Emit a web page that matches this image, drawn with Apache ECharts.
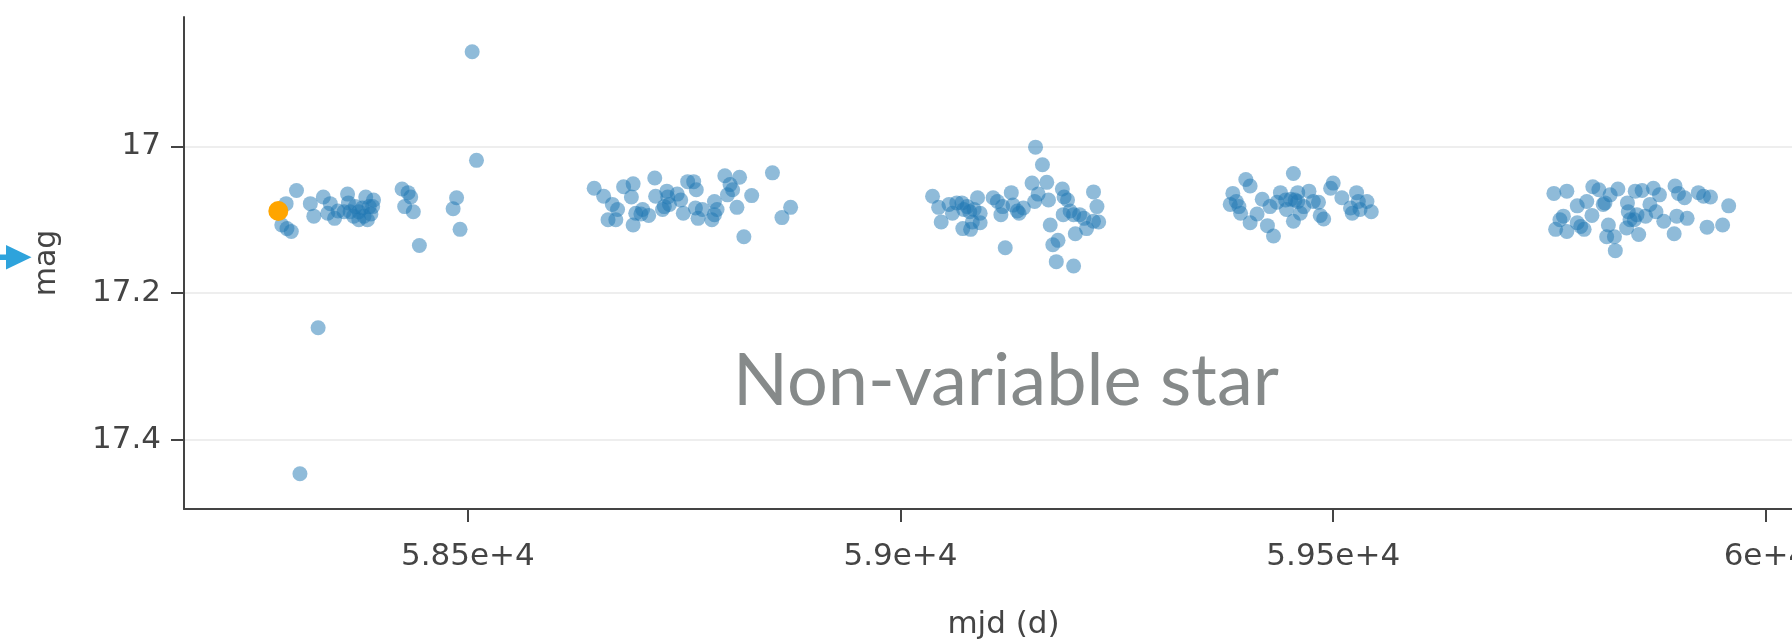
<!DOCTYPE html>
<html><head><meta charset="utf-8">
<script src="https://cdn.jsdelivr.net/npm/echarts@6/dist/echarts.min.js"></script>
<style>html,body{margin:0;padding:0;background:#fff}#c{width:1792px;height:644px}</style>
</head><body><div id="c"></div>
<script>
// [mjd (d), mag] observations, one array per observing season
const season1 = [[58302,17.060],[58290,17.078],[58285,17.107],[58291,17.112],[58296,17.116],[58318,17.078],[58322,17.095],[58333,17.069],[58341,17.078],[58338,17.091],[58346,17.098],[58350,17.088],[58361,17.065],[58362,17.077],[58364,17.089],[58368,17.095],[58374,17.100],[58384,17.100],[58382,17.069],[58391,17.073],[58390,17.082],[58388,17.092],[58378,17.084],[58370,17.082],[58357,17.089],[58374,17.089],[58380,17.095],[58386,17.082],[58424,17.058],[58431,17.063],[58434,17.069],[58427,17.082],[58437,17.089],[58444,17.135],[58487,17.070],[58483,17.085],[58491,17.113],[58505,16.871],[58510,17.019],[58327,17.247],[58306,17.446]];
const season2 = [[58646,17.057],[58657,17.068],[58667,17.079],[58673,17.086],[58662,17.100],[58671,17.100],[58680,17.055],[58691,17.051],[58689,17.069],[58694,17.091],[58702,17.086],[58700,17.092],[58691,17.107],[58709,17.094],[58716,17.043],[58717,17.068],[58725,17.086],[58730,17.061],[58731,17.069],[58727,17.082],[58733,17.079],[58742,17.065],[58746,17.073],[58749,17.091],[58754,17.048],[58761,17.048],[58764,17.059],[58763,17.084],[58766,17.098],[58771,17.086],[58782,17.100],[58785,17.093],[58788,17.086],[58785,17.075],[58797,17.040],[58803,17.052],[58806,17.059],[58800,17.066],[58814,17.042],[58811,17.083],[58828,17.067],[58852,17.036],[58873,17.083],[58863,17.097],[58819,17.123]];
const season3 = [[59037,17.068],[59044,17.083],[59047,17.103],[59056,17.079],[59060,17.091],[59065,17.077],[59071,17.077],[59073,17.086],[59077,17.082],[59080,17.089],[59072,17.112],[59081,17.113],[59083,17.103],[59089,17.070],[59092,17.091],[59092,17.104],[59085,17.086],[59107,17.070],[59112,17.075],[59118,17.082],[59116,17.093],[59128,17.063],[59130,17.080],[59135,17.088],[59137,17.091],[59142,17.084],[59121,17.138],[59156,17.001],[59164,17.025],[59152,17.050],[59169,17.049],[59159,17.065],[59155,17.075],[59171,17.073],[59187,17.058],[59189,17.069],[59193,17.073],[59188,17.093],[59196,17.088],[59200,17.093],[59207,17.093],[59212,17.098],[59173,17.107],[59176,17.134],[59182,17.128],[59180,17.157],[59200,17.163],[59202,17.119],[59215,17.112],[59223,17.062],[59227,17.082],[59229,17.103],[59223,17.102]];
const season4 = [[59399,17.045],[59404,17.054],[59384,17.064],[59381,17.079],[59388,17.075],[59393,17.091],[59391,17.082],[59454,17.037],[59418,17.072],[59412,17.092],[59404,17.104],[59424,17.108],[59431,17.122],[59427,17.082],[59435,17.076],[59439,17.063],[59446,17.086],[59451,17.072],[59456,17.073],[59459,17.063],[59454,17.102],[59462,17.091],[59466,17.082],[59472,17.061],[59477,17.075],[59483,17.076],[59485,17.094],[59489,17.099],[59497,17.057],[59500,17.050],[59510,17.070],[59520,17.084],[59522,17.091],[59527,17.063],[59529,17.075],[59531,17.086],[59539,17.075],[59544,17.089],[59459,17.075],[59445,17.073]];
const season5 = [[59755,17.064],[59770,17.061],[59800,17.055],[59807,17.059],[59829,17.058],[59820,17.066],[59849,17.061],[59857,17.060],[59870,17.057],[59877,17.066],[59895,17.054],[59899,17.064],[59906,17.070],[59922,17.063],[59928,17.068],[59936,17.069],[59957,17.081],[59782,17.081],[59793,17.075],[59812,17.079],[59814,17.077],[59766,17.095],[59762,17.100],[59757,17.113],[59770,17.116],[59782,17.104],[59786,17.109],[59790,17.113],[59799,17.094],[59818,17.107],[59816,17.123],[59825,17.123],[59826,17.142],[59840,17.077],[59841,17.089],[59843,17.100],[59839,17.111],[59853,17.120],[59851,17.093],[59861,17.095],[59866,17.079],[59873,17.089],[59882,17.102],[59897,17.095],[59909,17.098],[59894,17.119],[59932,17.110],[59950,17.107],[59848,17.100]];
const selectedPoint = [[58281,17.088]];

const xTickValues = [58500, 59000, 59500, 60000];
const xTickLabels = ['5.85e+4', '5.9e+4', '5.95e+4', '6e+4'];
const yTickValues = [17, 17.2, 17.4];
const yTickLabels = ['17', '17.2', '17.4'];

const observations = [].concat(season1, season2, season3, season4, season5);

function lookup(values, labels, v) {
  for (let i = 0; i < values.length; i++) if (Math.abs(values[i] - v) < 1e-6) return labels[i];
  return '';
}

const FONT = 'DejaVu Sans';
const TXT = '#444';
const chart = echarts.init(document.getElementById('c'), null, {renderer: 'canvas'});
chart.setOption({
  animation: false,
  grid: {left: 184, top: 17, width: 1639, bottom: 135, outerBoundsMode: 'none', containLabel: false},
  xAxis: {
    type: 'value', min: 58172, max: 60066,
    name: 'mjd (d)', nameLocation: 'middle', nameGap: 100,
    nameTextStyle: {fontFamily: FONT, fontSize: 31, color: TXT},
    axisLine: {show: true, onZero: false, lineStyle: {color: TXT, width: 2}},
    axisTick: {show: true, length: 13, customValues: xTickValues, lineStyle: {color: TXT, width: 2}},
    axisLabel: {customValues: xTickValues, formatter: v => lookup(xTickValues, xTickLabels, v),
      fontFamily: FONT, fontSize: 31, color: TXT, margin: 32, hideOverlap: false},
    splitLine: {show: false}
  },
  yAxis: {
    type: 'value', inverse: true, min: 16.8237, max: 17.494, minInterval: 0.2, maxInterval: 0.2,
    name: 'mag', nameLocation: 'middle', nameGap: 122,
    nameTextStyle: {fontFamily: FONT, fontSize: 30, color: TXT},
    axisLine: {show: true, onZero: false, lineStyle: {color: TXT, width: 2}},
    axisTick: {show: true, length: 13, customValues: yTickValues, lineStyle: {color: TXT, width: 2}},
    axisLabel: {customValues: yTickValues, formatter: v => lookup(yTickValues, yTickLabels, v),
      fontFamily: FONT, fontSize: 31, color: TXT, margin: 23},
    splitLine: {show: true, lineStyle: {color: '#eeeeee', width: 2}}
  },
  series: [
    {type: 'scatter', data: observations, symbolSize: 15, itemStyle: {color: '#1f77b4', opacity: 0.5}, z: 2},
    {type: 'scatter', data: selectedPoint, symbolSize: 20, itemStyle: {color: '#ffa500', opacity: 1}, z: 3}
  ],
  graphic: [
    {type: 'text', z: 10, style: {x: 1006, y: 382, text: 'Non-variable star', fill: '#868a8a',
      font: '400 72px Lato', textAlign: 'center', textVerticalAlign: 'middle'}},
    {type: 'rect', z: 10, shape: {x: 0, y: 254.5, width: 8, height: 5.5}, style: {fill: '#2ea3dc'}},
    {type: 'polygon', z: 10, shape: {points: [[6, 245], [31.5, 257.3], [6, 269.5]]}, style: {fill: '#2ea3dc'}}
  ]
});
</script></body></html>
